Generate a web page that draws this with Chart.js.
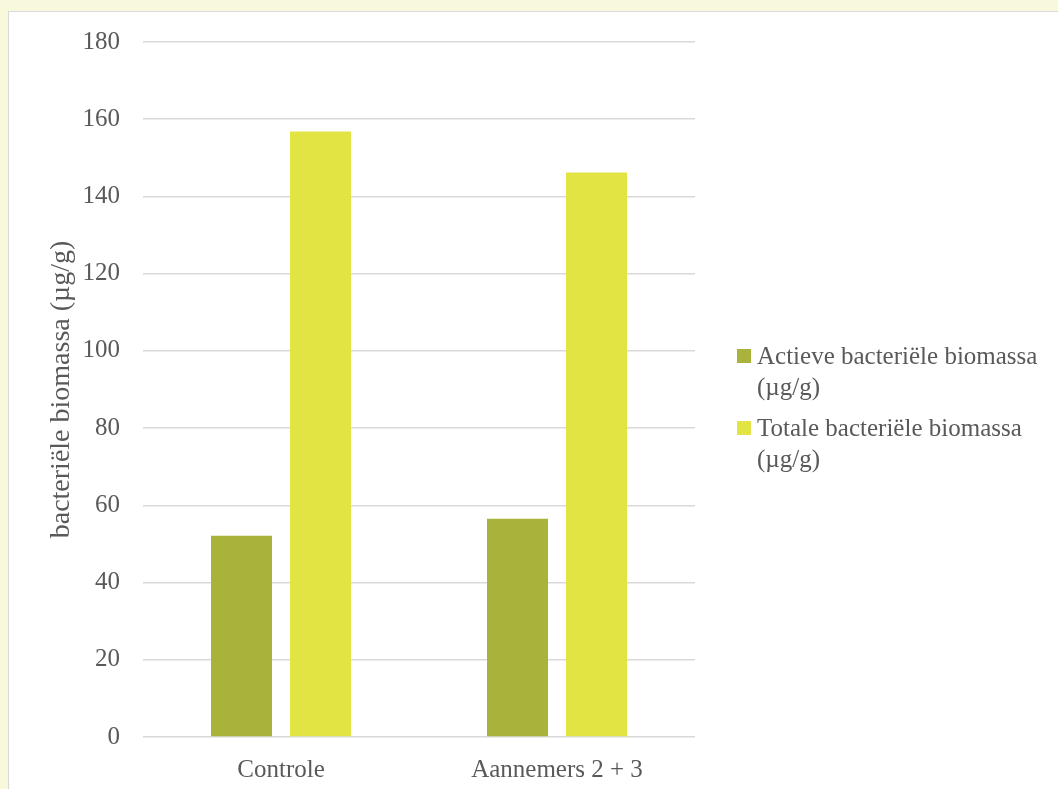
<!DOCTYPE html>
<html>
<head>
<meta charset="utf-8">
<script src="https://cdn.jsdelivr.net/npm/chart.js@4/dist/chart.umd.min.js"></script>
<style>
  html, body { margin: 0; padding: 0; }
  body { width: 1058px; height: 789px; background: #f8f8dc; position: relative; overflow: hidden; }
  #panel { position: absolute; left: 8px; top: 11px; width: 1060px; height: 790px; background: #fff;
           border-top: 1px solid #d9d9d9; border-left: 1px solid #d9d9d9; }
  #wrap { position: absolute; left: 0; top: 0; width: 1058px; height: 789px; }
  #legend { position: absolute; left: 737px; top: 340px; font-family: "Liberation Serif", serif;
            font-size: 25px; color: #595959; line-height: 31px; }
  .item { position: relative; padding-left: 20px; margin-bottom: 10px; width: 320px; }
  .box { position: absolute; left: 0; top: 9px; width: 14px; height: 14px; }
</style>
</head>
<body>
<div id="panel"></div>
<div id="wrap"><canvas id="chart" width="1058" height="789"></canvas></div>
<div id="legend"></div>
<script>
var categories = ["Controle", "Aannemers 2 + 3"];
var actief = [52.1, 56.5];
var totaal = [156.8, 146.2];
var seriesNames = [["Actieve bacteriële biomassa", "(µg/g)"], ["Totale bacteriële biomassa", "(µg/g)"]];
var yTicks = [0, 20, 40, 60, 80, 100, 120, 140, 160, 180];
var colors = ["#a9b23a", "#e2e444"];

var font = "'Liberation Serif', serif";

var ctx = document.getElementById("chart").getContext('2d');
var myChart = new Chart(ctx, {
  type: "bar",
  data: {
    labels: categories,
    datasets: [
      {
        label: seriesNames[0].join(" "),
        data: actief,
        backgroundColor: colors[0]
      },
      {
        label: seriesNames[1].join(" "),
        data: totaal,
        backgroundColor: colors[1]
      }
    ]
  },
  options: {
    responsive: false,
    animation: false,
    categoryPercentage: 0.5725,
    barPercentage: 0.772,
    layout: {
      padding: { left: 0, top: 42, right: 363, bottom: 0 }
    },
    plugins: {
      legend: { display: false },
      tooltip: { enabled: false }
    },
    scales: {
      x: {
        grid: { display: false },
        border: { display: false },
        ticks: { color: "#595959", font: { family: font, size: 25 }, padding: 10 },
        afterFit: function (scale) { scale.height = 52; }
      },
      y: {
        min: 0,
        max: 180,
        afterBuildTicks: function (scale) {
          scale.ticks = yTicks.map(function (v) { return { value: v }; });
        },
        grid: { color: "#d9d9d9", lineWidth: 1.5, drawTicks: false },
        border: { display: false },
        ticks: { color: "#595959", font: { family: font, size: 25 }, padding: 23 },
        title: {
          display: true,
          text: "bacteriële biomassa (µg/g)",
          color: "#595959",
          font: { family: font, size: 28 },
          padding: { top: 45, bottom: 0 }
        },
        afterFit: function (scale) { scale.width = 143; }
      }
    }
  }
});

var legend = document.getElementById("legend");
seriesNames.forEach(function (name, i) {
  var item = document.createElement("div");
  item.className = "item";
  var box = document.createElement("span");
  box.className = "box";
  box.style.background = colors[i];
  item.appendChild(box);
  item.appendChild(document.createTextNode(name[0]));
  item.appendChild(document.createElement("br"));
  item.appendChild(document.createTextNode(name[1]));
  legend.appendChild(item);
});
</script>
</body>
</html>
